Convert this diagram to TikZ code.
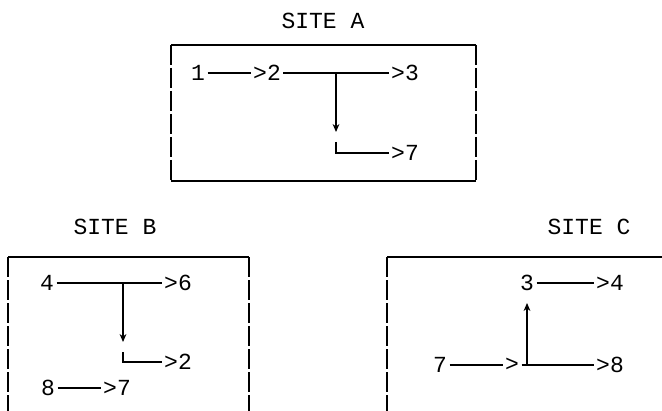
\documentclass[tikz,border=0pt]{standalone}
\usepackage{fontspec}
\setmonofont{Liberation Mono}
\usetikzlibrary{arrows.meta, positioning, calc}

\begin{document}
\begin{tikzpicture}[x=0.5pt, y=-0.5pt, line width=0.6pt,
    every node/.style={inner sep=1pt, font=\ttfamily\fontsize{11.5}{13}\selectfont},
    wall/.style={dash pattern=on 10pt off 1.5pt},
    down/.style={-{Stealth[length=4pt, width=3.4pt]}}]
    \useasboundingbox (0,0) rectangle (662,411);

    % site A
    \node (titleA) at (323,21) {SITE A};
    \draw (171,45) -- (476,45);
    \draw (171,181) -- (476,181);
    \draw[wall] (171,45) -- (171,181);
    \draw[wall] (476,45) -- (476,181);
    \node (a1) at (198,73) {1};
    \node (a2) at (267,73) {>2};
    \node (a3) at (405,73) {>3};
    \node (a7) at (405,153) {>7};
    \coordinate (aJ) at (336,73);
    \coordinate (aD) at (336,132);
    \coordinate (aL) at (336,142);
    \draw (a1) -- (a2);
    \draw (a2) -- (a3);
    \draw[down] (aJ) -- (aD);
    \draw (aL) |- (a7);

    % site B
    \node (titleB) at (115,227) {SITE B};
    \draw (8,257) -- (249,257);
    \draw[wall] (8,257) -- (8,411);
    \draw[wall] (249,257) -- (249,411);
    \node (b4) at (47,283) {4};
    \node (b6) at (178,283) {>6};
    \node (b2) at (178,362) {>2};
    \node (b8) at (48,388) {8};
    \node (b7) at (117,388) {>7};
    \coordinate (bJ) at (123,283);
    \coordinate (bD) at (123,342);
    \coordinate (bL) at (123,352);
    \draw (b4) -- (b6);
    \draw[down] (bJ) -- (bD);
    \draw (bL) |- (b2);
    \draw (b8) -- (b7);

    % site C
    \node (titleC) at (589,227) {SITE C};
    \draw (387,257) -- (662,257);
    \draw[wall] (387,257) -- (387,411);
    \node (c3) at (527,283) {3};
    \node (c4) at (610,283) {>4};
    \node (c7) at (440,365) {7};
    \node (cmid) at (512,365) {>};
    \node (c8) at (610,365) {>8};
    \coordinate (cJ) at (527,365);
    \coordinate (cU) at (527,303);
    \draw (c3) -- (c4);
    \draw (c7) -- (cmid);
    \draw (cmid) -- (c8);
    \draw[down] (cJ) -- (cU);
\end{tikzpicture}
\end{document}
